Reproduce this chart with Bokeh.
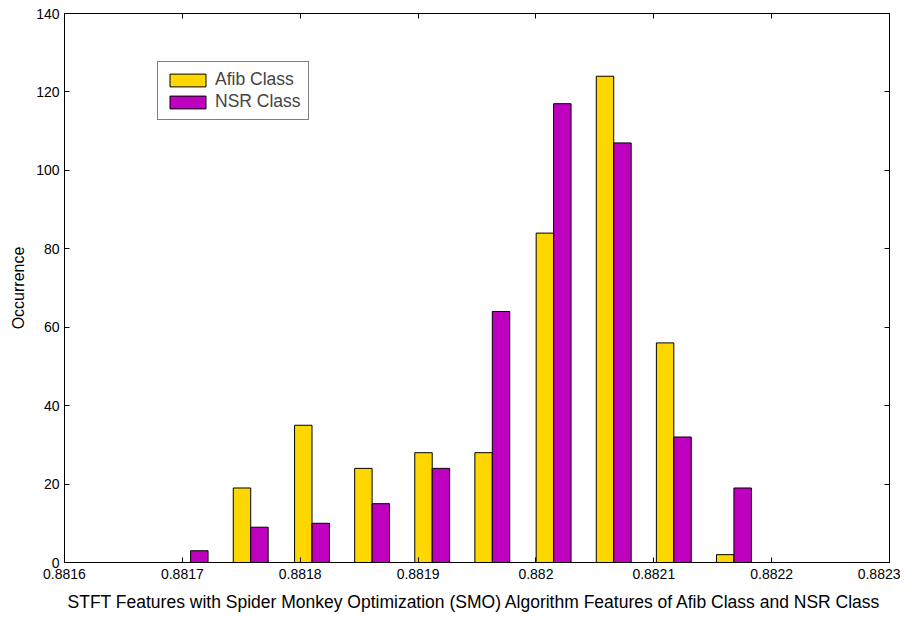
from bokeh.plotting import figure
from bokeh.models import (Range1d, LinearAxis, FixedTicker, Legend, LegendItem,
                          ColumnDataSource, CustomJSTickFormatter)
from bokeh.embed import file_html
from bokeh.resources import INLINE

# Data
bin_centers = [0.881707, 0.881758, 0.881810, 0.881861, 0.881912,
               0.881963, 0.882015, 0.882066, 0.882117, 0.882168]
afib_counts = [0, 19, 35, 24, 28, 28, 84, 124, 56, 2]
nsr_counts = [3, 9, 10, 15, 24, 64, 117, 107, 32, 19]
bar_width = 0.0000148

x_ticks = [0.8816, 0.8817, 0.8818, 0.8819, 0.8820, 0.8821, 0.8822, 0.8823]
x_tick_labels = ["0.8816", "0.8817", "0.8818", "0.8819", "0.882", "0.8821", "0.8822", "0.8823"]
y_ticks = [0, 20, 40, 60, 80, 100, 120, 140]

FONT = "Liberation Sans"
AFIB_COLOR = "#FFD700"
NSR_COLOR = "#BF00BF"

p = figure(width=900, height=615, output_backend="svg", toolbar_location=None,
           x_range=Range1d(0.8816, 0.8823), y_range=Range1d(0, 140),
           min_border_left=64, min_border_right=11, min_border_top=13, min_border_bottom=53)
p.xgrid.visible = False
p.ygrid.visible = False
p.outline_line_color = "black"
p.outline_line_width = 1
p.background_fill_color = "white"
p.border_fill_color = "white"

afib_x = [c - bar_width / 2 for c in bin_centers]
nsr_x = [c + bar_width / 2 for c in bin_centers]
src_a = ColumnDataSource(dict(x=afib_x, top=afib_counts))
src_n = ColumnDataSource(dict(x=nsr_x, top=nsr_counts))

ra = p.vbar(x="x", top="top", bottom=0, width=bar_width, source=src_a,
            fill_color=AFIB_COLOR, line_color="black", line_width=1)
rn = p.vbar(x="x", top="top", bottom=0, width=bar_width, source=src_n,
            fill_color=NSR_COLOR, line_color="black", line_width=1)

def style_axis(ax):
    ax.major_tick_in = 5
    ax.major_tick_out = 0
    ax.minor_tick_in = 0
    ax.minor_tick_out = 0
    ax.axis_line_color = "black"
    ax.major_tick_line_color = "black"
    ax.major_label_text_font = FONT
    ax.major_label_text_font_size = "14px"
    ax.major_label_text_color = "black"
    ax.axis_label_text_font = FONT
    ax.axis_label_text_font_style = "normal"
    ax.axis_label_text_color = "black"

xa = p.xaxis[0]
xa.ticker = FixedTicker(ticks=x_ticks)
xa.major_label_overrides = {t: l for t, l in zip(x_ticks, x_tick_labels)}
xa.axis_label = "STFT Features with Spider Monkey Optimization (SMO) Algorithm Features of Afib  Class and NSR Class"
xa.axis_label_standoff = 10
xa.major_label_standoff = 6
style_axis(xa)
xa.axis_label_text_font_size = "17.5px"

ya = p.yaxis[0]
ya.ticker = FixedTicker(ticks=y_ticks)
ya.axis_label = "Occurrence"
ya.axis_label_standoff = 6
ya.major_label_standoff = 5
style_axis(ya)
ya.axis_label_text_font_size = "16px"

empty = CustomJSTickFormatter(code="return '';")
top_ax = LinearAxis(ticker=FixedTicker(ticks=x_ticks), formatter=empty, major_label_standoff=0)
style_axis(top_ax)
p.add_layout(top_ax, "above")
right_ax = LinearAxis(ticker=FixedTicker(ticks=y_ticks), formatter=empty, major_label_standoff=0)
style_axis(right_ax)
p.add_layout(right_ax, "right")

legend = Legend(items=[LegendItem(label="Afib Class", renderers=[ra]),
                       LegendItem(label="NSR Class", renderers=[rn])],
                location=(93, 442))
legend.label_text_font = FONT
legend.label_text_font_size = "17.5px"
legend.glyph_width = 45
legend.glyph_height = 16
legend.label_height = 16
legend.spacing = 1
legend.padding = 7
legend.margin = 0
legend.label_standoff = 5
legend.border_line_color = "black"
legend.border_line_width = 1
legend.background_fill_alpha = 1
p.add_layout(legend, "center")

open("out.html", "w").write(file_html(p, INLINE))
